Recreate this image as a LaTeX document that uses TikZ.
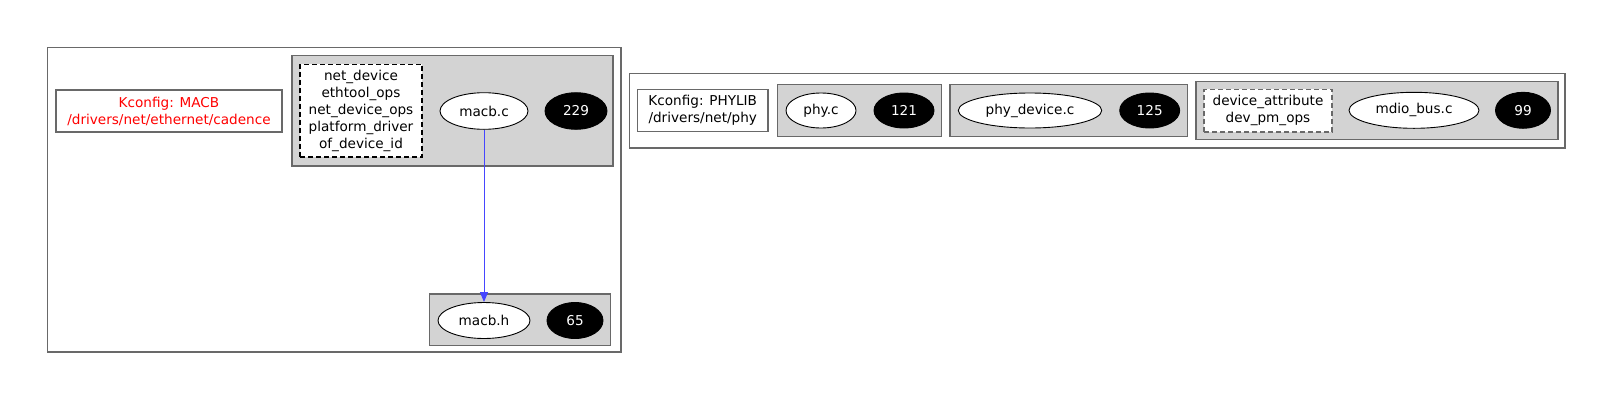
\documentclass[tikz,border=0pt]{standalone}
\usepackage{fontspec}
\setmainfont{DejaVu Sans}
\usetikzlibrary{shapes.geometric,arrows.meta}
\definecolor{clgray}{RGB}{105,105,105}
\definecolor{lightgrey}{RGB}{211,211,211}
\definecolor{edgeblue}{RGB}{70,70,255}
\tikzset{
  clusterbox/.style={draw=clgray, line width=1.2pt, inner sep=0pt},
  grpbox/.style={draw=clgray, fill=lightgrey, line width=1.2pt, inner sep=0pt},
  kbox/.style={draw=clgray, fill=white, line width=1.2pt, inner sep=0pt, align=center},
  dbox/.style={draw=#1, fill=white, line width=1.1pt, dash pattern=on 5pt off 3pt, inner sep=0pt, align=center},
  fileell/.style={ellipse, draw=black, fill=white, line width=0.9pt, inner sep=0pt},
  cntell/.style={ellipse, draw=black, fill=black, text=white, line width=0.9pt, inner sep=0pt},
  edgeline/.style={draw=edgeblue, line width=1pt, -{Triangle[length=10pt,width=8pt]}},
}
\begin{document}
\begin{tikzpicture}[x=1pt,y=-1pt, every node/.style={font=\fontsize{13.6}{17}\selectfont}]
\useasboundingbox[fill=white] (0,0) rectangle (1614,402);
% left cluster
\node[clusterbox, minimum width=573.5pt, minimum height=304.5pt] (leftcl) at (334.25,199.75) {};
\node[kbox, text=red, minimum width=226pt, minimum height=42pt] (kmacb) at (169,111) {Kconfig: MACB\\/drivers/net/ethernet/cadence};
\node[grpbox, minimum width=321pt, minimum height=110.3pt] (gmacbc) at (452.5,110.85) {};
\node[dbox=black, minimum width=122pt, minimum height=92.7pt] (dmacb) at (361,110.65) {net\_device\\ethtool\_ops\\net\_device\_ops\\platform\_driver\\of\_device\_id};
\node[fileell, minimum width=88pt, minimum height=36.6pt] (macbc) at (484,111) {macb.c};
\node[cntell, minimum width=62pt, minimum height=36.6pt] (n229) at (576,111) {229};
\node[grpbox, minimum width=181.4pt, minimum height=51.7pt] (gmacbh) at (520,319.85) {};
\node[fileell, minimum width=92pt, minimum height=36pt] (macbh) at (484,320.5) {macb.h};
\node[cntell, minimum width=56pt, minimum height=36pt] (n65) at (575,320.5) {65};
\draw[edgeline] (macbc) -- (macbh);
% right cluster
\node[clusterbox, minimum width=935.5pt, minimum height=74.5pt] (rightcl) at (1097.25,110.75) {};
\node[kbox, minimum width=130.5pt, minimum height=42.2pt] (kphy) at (702.75,110.6) {Kconfig: PHYLIB\\/drivers/net/phy};
\node[grpbox, minimum width=164pt, minimum height=52.4pt] (gphyc) at (859.7,110.5) {};
\node[fileell, minimum width=70pt, minimum height=35pt] (phyc) at (821,110.5) {phy.c};
\node[cntell, minimum width=60pt, minimum height=35pt] (n121) at (904,110.5) {121};
\node[grpbox, minimum width=237.5pt, minimum height=52.4pt] (gphydev) at (1068.75,110.5) {};
\node[fileell, minimum width=143.4pt, minimum height=35pt] (phydev) at (1030,110.5) {phy\_device.c};
\node[cntell, minimum width=60pt, minimum height=35pt] (n125) at (1149.7,110.5) {125};
\node[grpbox, minimum width=362pt, minimum height=58pt] (gmdio) at (1377,110.5) {};
\node[dbox=clgray, minimum width=128pt, minimum height=42.7pt] (dmdio) at (1268,110.65) {device\_attribute\\dev\_pm\_ops};
\node[fileell, minimum width=130pt, minimum height=36pt] (mdio) at (1414,110.3) {mdio\_bus.c};
\node[cntell, minimum width=55pt, minimum height=36pt] (n99) at (1523,110.3) {99};
\end{tikzpicture}
\end{document}
